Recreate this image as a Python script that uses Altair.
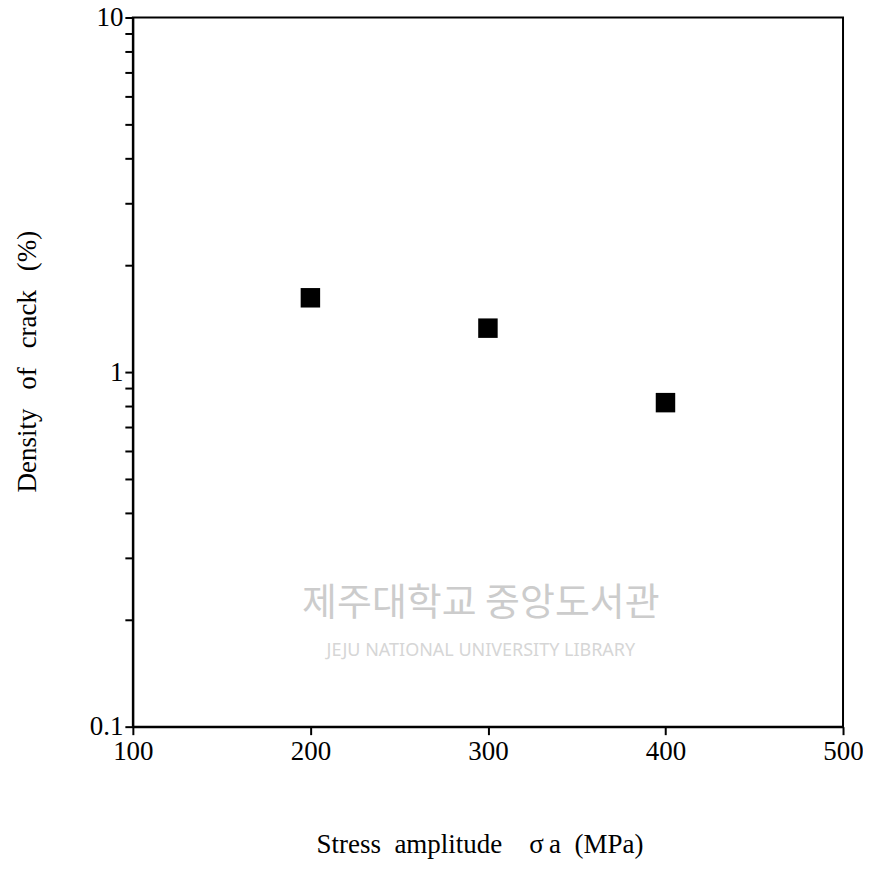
import altair as alt
import pandas as pd

stress = [200, 300, 400]
density = [1.62, 1.33, 0.82]

x_ticks = [100, 200, 300, 400, 500]
y_major = [0.1, 1, 10]
y_ticks = [0.1, 0.2, 0.3, 0.4, 0.5, 0.6, 0.7, 0.8, 0.9,
           1, 2, 3, 4, 5, 6, 7, 8, 9, 10]

wm_text = ["제주대학교 중앙도서관", "JEJU NATIONAL UNIVERSITY  LIBRARY"]
wm_x = [296, 296]
wm_y = [0.222, 0.163]

x_title = "Stress\u2002amplitude\u2002\u2002σ\u2009a\u2002(MPa)"
y_title = "Density\u2002\u2009of\u2002\u2009crack\u2002\u2009(%)"

df = pd.DataFrame({"stress": stress, "density": density})
wm1 = pd.DataFrame({"x": [wm_x[0]], "y": [wm_y[0]], "t": [wm_text[0]]})
wm2 = pd.DataFrame({"x": [wm_x[1]], "y": [wm_y[1]], "t": [wm_text[1]]})

xscale = alt.Scale(domain=[100, 500], nice=False, zero=False)
yscale = alt.Scale(type="log", domain=[0.1, 10], nice=False)

label_expr = ("datum.value == 0.1 ? '0.1' : datum.value == 1 ? '1' : "
              "datum.value == 10 ? '10' : ''")

points = alt.Chart(df).mark_square(size=380, color="black", opacity=1).encode(
    x=alt.X("stress:Q", scale=xscale,
            axis=alt.Axis(values=x_ticks, title=x_title,
                          titleX=347, titleY=118, titleBaseline="middle",
                          labelPadding=4, format="d", labelFlush=False)),
    y=alt.Y("density:Q", scale=yscale,
            axis=alt.Axis(values=y_ticks, labelExpr=label_expr,
                          title=y_title, labelFlush=False,
                          titleX=-105, titleY=344, titleBaseline="middle",
                          labelPadding=2)),
)

t1 = alt.Chart(wm1).mark_text(font="Noto Sans CJK KR", fontSize=38,
                              color="#cccccc", align="center",
                              baseline="middle").encode(
    x=alt.X("x:Q", scale=xscale), y=alt.Y("y:Q", scale=yscale), text="t:N")
t2 = alt.Chart(wm2).mark_text(font="Noto Sans", fontSize=18,
                              color="#d6d6d6", align="center",
                              baseline="middle").encode(
    x=alt.X("x:Q", scale=xscale), y=alt.Y("y:Q", scale=yscale), text="t:N")

chart = alt.layer(t1, t2, points).properties(
    width=711, height=710,
    background="white",
    autosize=alt.AutoSizeParams(type="none"),
    padding={"left": 125, "top": 9, "right": 20, "bottom": 142},
).configure_view(stroke="black", strokeWidth=2).configure_axis(
    domainColor="black", domainWidth=2, tickColor="black", tickWidth=2,
    tickSize=8, grid=False, labelFont="Liberation Serif", labelFontSize=27,
    labelColor="black", titleFont="Liberation Serif", titleFontSize=27,
    titleFontWeight="normal", titleColor="black",
)

chart.save("out.html", embed_options={"renderer": "svg", "actions": False})
